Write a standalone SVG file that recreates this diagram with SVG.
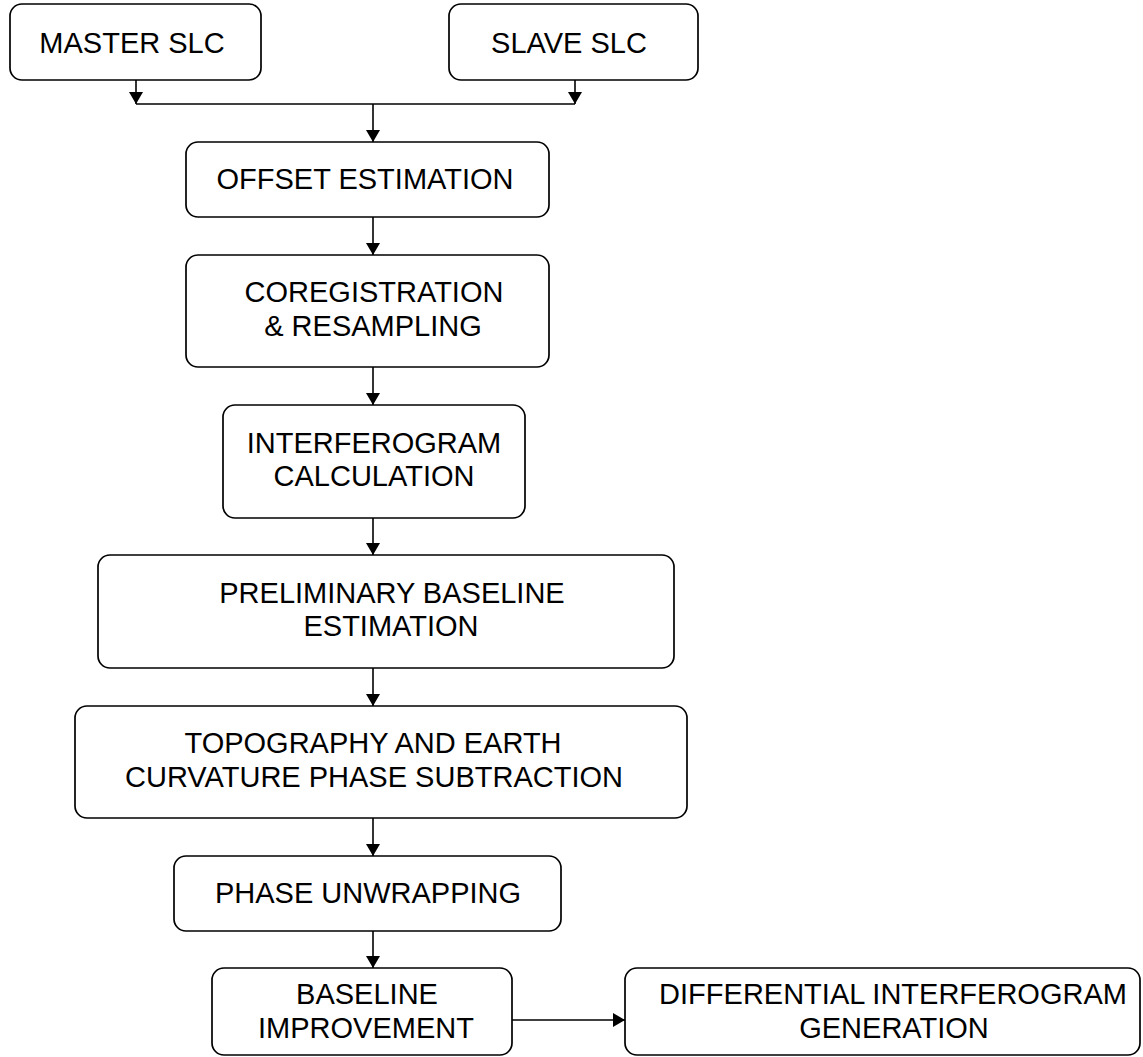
<svg xmlns="http://www.w3.org/2000/svg" width="1143" height="1057" viewBox="0 0 1143 1057">
<style>
.box{fill:#fff;stroke:#000;stroke-width:1.7}
.t{font-family:"Liberation Sans",Arial,sans-serif;font-size:29px;fill:#000;text-anchor:middle}
.c{stroke:#000;stroke-width:1.6;fill:none}
</style>
<defs>
<marker id="ah" viewBox="0 0 12 14" refX="12" refY="7" markerWidth="12" markerHeight="14" markerUnits="userSpaceOnUse" orient="auto">
<path d="M0,0 L12,7 L0,14 Z" fill="#000"/>
</marker>
</defs>
<rect width="1143" height="1057" fill="#fff"/>
<g id="connectors">
<line class="c" x1="136" y1="80" x2="136" y2="104" marker-end="url(#ah)"/>
<line class="c" x1="575" y1="80" x2="575" y2="104" marker-end="url(#ah)"/>
<line class="c" x1="136" y1="104" x2="575" y2="104"/>
<line class="c" x1="373" y1="104" x2="373" y2="142" marker-end="url(#ah)"/>
<line class="c" x1="373" y1="217" x2="373" y2="255" marker-end="url(#ah)"/>
<line class="c" x1="373" y1="367" x2="373" y2="405" marker-end="url(#ah)"/>
<line class="c" x1="373" y1="518" x2="373" y2="555" marker-end="url(#ah)"/>
<line class="c" x1="373" y1="668" x2="373" y2="706" marker-end="url(#ah)"/>
<line class="c" x1="373" y1="818" x2="373" y2="856" marker-end="url(#ah)"/>
<line class="c" x1="373" y1="931" x2="373" y2="968" marker-end="url(#ah)"/>
<line class="c" x1="512" y1="1020" x2="625" y2="1020" marker-end="url(#ah)"/>
</g>
<g id="master"><rect class="box" x="10" y="4" width="251" height="76" rx="12"/><text class="t" x="132" y="53">MASTER SLC</text></g>
<g id="slave"><rect class="box" x="449" y="4" width="249" height="76" rx="12"/><text class="t" x="569" y="53">SLAVE SLC</text></g>
<g id="offset"><rect class="box" x="186" y="142" width="363" height="75" rx="12"/><text class="t" x="365" y="189">OFFSET ESTIMATION</text></g>
<g id="coreg"><rect class="box" x="186" y="255" width="363" height="112" rx="12"/><text class="t" x="374" y="302">COREGISTRATION</text><text class="t" x="373" y="336">&amp; RESAMPLING</text></g>
<g id="interf"><rect class="box" x="223" y="405" width="302" height="113" rx="12"/><text class="t" x="374" y="453">INTERFEROGRAM</text><text class="t" x="374" y="486">CALCULATION</text></g>
<g id="prelim"><rect class="box" x="98" y="555" width="576" height="113" rx="12"/><text class="t" x="392" y="603">PRELIMINARY BASELINE</text><text class="t" x="391" y="636">ESTIMATION</text></g>
<g id="topo"><rect class="box" x="75" y="706" width="612" height="112" rx="12"/><text class="t" x="373" y="753">TOPOGRAPHY AND EARTH</text><text class="t" x="374" y="787">CURVATURE PHASE SUBTRACTION</text></g>
<g id="unwrap"><rect class="box" x="174" y="856" width="387" height="75" rx="12"/><text class="t" x="368" y="903">PHASE UNWRAPPING</text></g>
<g id="baseline"><rect class="box" x="212" y="968" width="300" height="87" rx="12"/><text class="t" x="367" y="1004">BASELINE</text><text class="t" x="366" y="1038">IMPROVEMENT</text></g>
<g id="diff"><rect class="box" x="625" y="968" width="515" height="87" rx="12"/><text class="t" x="893" y="1004">DIFFERENTIAL INTERFEROGRAM</text><text class="t" x="894" y="1038">GENERATION</text></g>
</svg>
